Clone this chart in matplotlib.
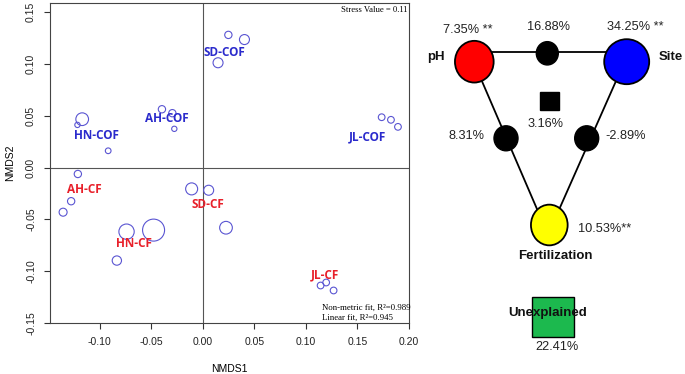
import matplotlib
matplotlib.use("Agg")
import matplotlib.pyplot as plt
from matplotlib.patches import Ellipse, Rectangle

# NMDS sample scores, grouped by site/treatment
groups = ["HN-COF", "AH-COF", "SD-COF", "JL-COF", "AH-CF", "HN-CF", "SD-CF", "JL-CF"]
nmds1 = [
    [-0.1168, -0.1214, -0.0916],
    [-0.0395, -0.0294, -0.0275],
    [0.0149, 0.0249, 0.0405],
    [0.1735, 0.1825, 0.1893],
    [-0.1210, -0.1353, -0.1275],
    [-0.0832, -0.0738, -0.0476],
    [-0.0107, 0.0058, 0.0226],
    [0.1143, 0.1197, 0.1269],
]
nmds2 = [
    [0.0468, 0.0413, 0.0163],
    [0.0564, 0.0526, 0.0375],
    [0.1013, 0.1282, 0.1237],
    [0.0487, 0.0462, 0.0394],
    [-0.0061, -0.0430, -0.0324],
    [-0.0897, -0.0618, -0.0603],
    [-0.0205, -0.0218, -0.0580],
    [-0.1138, -0.1109, -0.1186],
]
# bubble size (relative)
bubble = [
    [12.7, 5.3, 5.7],
    [7.3, 7.3, 5.3],
    [10.0, 7.3, 10.0],
    [6.7, 6.7, 6.7],
    [7.3, 8.0, 7.3],
    [9.3, 15.3, 22.0],
    [12.0, 10.0, 12.7],
    [6.7, 6.7, 6.7],
]
label_x = [-0.1029, -0.0343, 0.0214, 0.1600, -0.1152, -0.0667, 0.0051, 0.1184]
label_y = [0.0308, 0.0471, 0.1109, 0.0301, -0.0212, -0.0731, -0.0356, -0.1038]
stress = 0.11
r2_nonmetric = 0.989
r2_linear = 0.945

# variation partitioning
vp_names = ["pH", "Site", "Fertilization"]
vp_pure = [7.35, 34.25, 10.53]
vp_shared = [16.88, 8.31, -2.89]   # pH-Site, pH-Fert, Site-Fert
vp_all = 3.16
vp_unexplained = 22.41

fig = plt.figure(figsize=(6.85, 3.74), dpi=100)
W, H = 685, 374

# ---- NMDS panel ----
ax = fig.add_axes([50 / W, 51 / H, 359 / W, 320 / H])
for i, g in enumerate(groups):
    sizes = [(d * 0.72) ** 2 for d in bubble[i]]
    ax.scatter(nmds1[i], nmds2[i], s=sizes, facecolors="none",
               edgecolors="#5a55d2", linewidths=0.8, zorder=3)
    col = "#e8202a" if g.endswith("-CF") else "#2b2bcc"
    ax.text(label_x[i], label_y[i], g, color=col, fontsize=8.5, fontweight="bold",
            family="Open Sans", ha="center", va="center", zorder=4)

ax.axhline(0, color="#555555", lw=0.8, zorder=1)
ax.axvline(0, color="#555555", lw=0.8, zorder=1)
ax.set_xlim(-0.148, 0.2)
ax.set_ylim(-0.15, 0.159)
ax.set_xticks([-0.10, -0.05, 0.00, 0.05, 0.10, 0.15, 0.20])
ax.set_yticks([-0.15, -0.10, -0.05, 0.00, 0.05, 0.10, 0.15])
ax.set_xticklabels(["%.2f" % v for v in ax.get_xticks()])
ax.set_yticklabels(["%.2f" % v for v in ax.get_yticks()], rotation=90, va="center")
ax.tick_params(direction="out", length=4, width=0.8, labelsize=7.5, pad=6,
               colors="#333333", labelcolor="#222222")
for lab in ax.get_xticklabels() + ax.get_yticklabels():
    lab.set_family("Liberation Sans")
for sp in ax.spines.values():
    sp.set_color("#444444")
    sp.set_linewidth(0.8)
ax.set_xlabel("NMDS1", fontsize=7.5, family="Liberation Sans", labelpad=12)
ax.set_ylabel("NMDS2", fontsize=7.5, family="Liberation Sans", labelpad=8)

ax.text(0.995, 0.99, "Stress Value = %.2f" % stress, transform=ax.transAxes,
        ha="right", va="top", fontsize=6.2, family="Liberation Serif")
ax.text(0.116, -0.1356, "Non-metric fit, R\u00b2=%.3f" % r2_nonmetric,
        ha="left", va="center", fontsize=6.3, family="Liberation Serif")
ax.text(0.116, -0.1450, "Linear fit, R\u00b2=%.3f" % r2_linear,
        ha="left", va="center", fontsize=6.3, family="Liberation Serif")

# ---- variation partitioning diagram (pixel coordinates) ----
vx = fig.add_axes([420 / W, 0, 265 / W, 1])
vx.set_xlim(420, 685)
vx.set_ylim(374, 0)
vx.axis("off")

lw = 1.3
vx.plot([474, 627], [51.7, 51.7], color="black", lw=lw, zorder=1)
vx.plot([478, 540], [72, 216], color="black", lw=lw, zorder=1)
vx.plot([620, 558], [72, 212], color="black", lw=lw, zorder=1)

vx.add_patch(Ellipse((474.3, 61.7), 38.7, 41.7, fc="#ff0000", ec="black", lw=lw, zorder=2))
vx.add_patch(Ellipse((626.7, 61.7), 45, 45, fc="#0000ff", ec="black", lw=lw, zorder=2))
vx.add_patch(Ellipse((549.3, 225), 36.7, 40.7, fc="#ffff00", ec="black", lw=lw, zorder=2))
vx.add_patch(Ellipse((547.3, 53.3), 22, 23.3, fc="black", ec="black", zorder=2))
vx.add_patch(Ellipse((506, 138.3), 24, 25, fc="black", ec="black", zorder=2))
vx.add_patch(Ellipse((586.7, 138.3), 24, 25, fc="black", ec="black", zorder=2))
vx.add_patch(Rectangle((540.2, 91.9), 18.3, 18.3, fc="black", ec="black", zorder=2))
vx.add_patch(Rectangle((531.7, 297.3), 42.3, 39.3, fc="#1cb94e", ec="black", lw=1.0, zorder=2))

tf = dict(fontsize=9.2, family="Liberation Sans", color="#222222", va="center", zorder=3)
bf = dict(fontsize=9.5, family="Liberation Sans", fontweight="bold", color="#111111",
          va="center", zorder=3)
vx.text(468.3, 30, "%.2f%% **" % vp_pure[0], ha="center", **tf)
vx.text(548.3, 27.3, "%.2f%%" % vp_shared[0], ha="center", **tf)
vx.text(635, 27.3, "%.2f%% **" % vp_pure[1], ha="center", **tf)
vx.text(445, 57, vp_names[0], ha="right", **bf)
vx.text(659, 57.3, vp_names[1], ha="left", **bf)
vx.text(546, 124, "%.2f%%" % vp_all, ha="center", **tf)
vx.text(484.3, 136, "%.2f%%" % vp_shared[1], ha="right", **tf)
vx.text(605.7, 136, "%.2f%%" % vp_shared[2], ha="left", **tf)
vx.text(577.7, 229, "%.2f%%**" % vp_pure[2], ha="left", **tf)
vx.text(555, 256, vp_names[2], ha="center", **bf)
vx.text(547.3, 312.7, "Unexplained", ha="center", **bf)
vx.text(556.7, 347.3, "%.2f%%" % vp_unexplained, ha="center", **tf)

fig.savefig("out.png", dpi=100)
